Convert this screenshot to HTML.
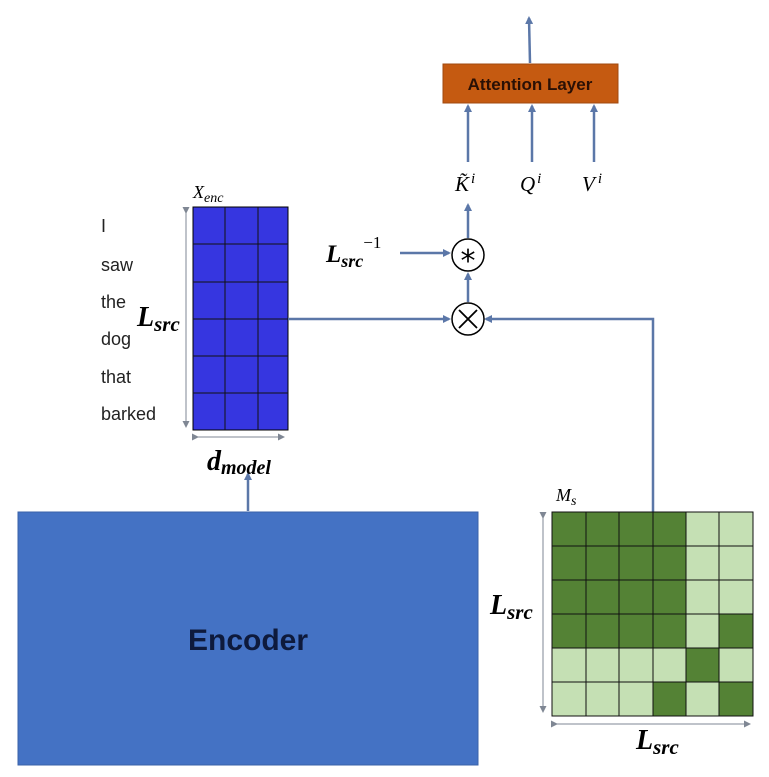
<!DOCTYPE html>
<html><head><style>body{margin:0;background:#fff}svg{display:block}</style></head><body>
<svg width="769" height="777" xmlns="http://www.w3.org/2000/svg" font-family="Liberation Serif, serif">
<defs><marker id="a" markerWidth="8" markerHeight="8" refX="6" refY="4" orient="auto" markerUnits="userSpaceOnUse"><path d="M0,0 L8,4 L0,8 z" fill="#5b77a8"/></marker>
<marker id="g" markerWidth="7" markerHeight="7" refX="5" refY="3.5" orient="auto" markerUnits="userSpaceOnUse"><path d="M0,0 L7,3.5 L0,7 z" fill="#7f8794"/></marker></defs>
<!-- encoder -->
<rect x="18" y="512" width="460" height="253" fill="#4472c4" stroke="#3a62a8"/>
<text x="248" y="650" font-family="Liberation Sans, sans-serif" font-weight="bold" font-size="30" fill="#0e1a3c" text-anchor="middle">Encoder</text>
<line x1="248" y1="511" x2="248" y2="474" stroke="#5b77a8" stroke-width="2.5" marker-end="url(#a)"/>
<!-- blue grid -->
<rect x="193" y="207" width="95" height="223" fill="#3636e0" stroke="#000"/>
<g stroke="#111" stroke-width="1">
<line x1="225" y1="207" x2="225" y2="430"/><line x1="258" y1="207" x2="258" y2="430"/>
<line x1="193" y1="244" x2="288" y2="244"/><line x1="193" y1="282" x2="288" y2="282"/><line x1="193" y1="319" x2="288" y2="319"/><line x1="193" y1="356" x2="288" y2="356"/><line x1="193" y1="393" x2="288" y2="393"/>
</g>
<line x1="186" y1="212" x2="186" y2="426" stroke="#7f8794" marker-end="url(#g)" marker-start="url(#g)"/>
<line x1="197" y1="437" x2="283" y2="437" stroke="#7f8794" marker-end="url(#g)" marker-start="url(#g)"/>
<g font-family="Liberation Sans, sans-serif" font-size="18" fill="#222">
<text x="101" y="232">I</text><text x="101" y="271">saw</text><text x="101" y="308">the</text><text x="101" y="345">dog</text><text x="101" y="383">that</text><text x="101" y="420">barked</text></g>
<text x="193" y="198" font-style="italic" font-size="18">X<tspan font-size="14" dy="4">enc</tspan></text>
<text x="137" y="326" font-style="italic" font-weight="bold" font-size="28">L<tspan font-size="21" dy="5">src</tspan></text>
<text x="207" y="470" font-style="italic" font-weight="bold" font-size="28">d<tspan font-size="20" dy="4">model</tspan></text>
<!-- connectors -->
<line x1="288" y1="319" x2="449" y2="319" stroke="#5b77a8" stroke-width="2.5" marker-end="url(#a)"/>
<polyline points="653,512 653,319 486,319" fill="none" stroke="#5b77a8" stroke-width="2.5" marker-end="url(#a)"/>
<circle cx="468" cy="319" r="16" fill="#fff" stroke="#000" stroke-width="1.5"/>
<path d="M459,310 L477,328 M477,310 L459,328" stroke="#000" stroke-width="1.8"/>
<line x1="468" y1="302" x2="468" y2="274" stroke="#5b77a8" stroke-width="2.5" marker-end="url(#a)"/>
<circle cx="468" cy="255" r="16" fill="#fff" stroke="#000" stroke-width="1.5"/>
<text x="468" y="271" font-family="DejaVu Sans, sans-serif" font-size="30" text-anchor="middle">*</text>
<line x1="400" y1="253" x2="449" y2="253" stroke="#5b77a8" stroke-width="2.5" marker-end="url(#a)"/>
<text x="326" y="262" font-style="italic" font-weight="bold" font-size="25">L<tspan font-size="18" dy="5">src</tspan><tspan font-size="17" font-weight="normal" font-style="normal" dy="-19">−1</tspan></text>
<line x1="468" y1="238" x2="468" y2="205" stroke="#5b77a8" stroke-width="2.5" marker-end="url(#a)"/>
<text x="455" y="191" font-style="italic" font-size="21">K̃<tspan font-size="15" dy="-8" dx="2">i</tspan></text>
<text x="520" y="191" font-style="italic" font-size="21">Q<tspan font-size="15" dy="-8" dx="2">i</tspan></text>
<text x="582" y="191" font-style="italic" font-size="21">V<tspan font-size="15" dy="-8" dx="3">i</tspan></text>
<line x1="468" y1="162" x2="468" y2="106" stroke="#5b77a8" stroke-width="2.5" marker-end="url(#a)"/>
<line x1="532" y1="162" x2="532" y2="106" stroke="#5b77a8" stroke-width="2.5" marker-end="url(#a)"/>
<line x1="594" y1="162" x2="594" y2="106" stroke="#5b77a8" stroke-width="2.5" marker-end="url(#a)"/>
<rect x="443" y="64" width="175" height="39" fill="#c55a11" stroke="#a04a10"/>
<text x="530" y="90" font-family="Liberation Sans, sans-serif" font-weight="bold" font-size="17" fill="#2a1005" text-anchor="middle">Attention Layer</text>
<line x1="530" y1="63" x2="529" y2="18" stroke="#5b77a8" stroke-width="2.5" marker-end="url(#a)"/>
<!-- green grid -->
<g stroke="#111" stroke-width="1">
<rect x="552" y="512" width="201" height="204" fill="#c5e0b4"/>
<rect x="552" y="512" width="134" height="136" fill="#548235" stroke="none"/>
<rect x="719" y="614" width="34" height="34" fill="#548235" stroke="none"/>
<rect x="686" y="648" width="33" height="34" fill="#548235" stroke="none"/>
<rect x="653" y="682" width="33" height="34" fill="#548235" stroke="none"/>
<rect x="719" y="682" width="34" height="34" fill="#548235" stroke="none"/>
<line x1="586" y1="512" x2="586" y2="716"/><line x1="619" y1="512" x2="619" y2="716"/><line x1="653" y1="512" x2="653" y2="716"/><line x1="686" y1="512" x2="686" y2="716"/><line x1="719" y1="512" x2="719" y2="716"/>
<line x1="552" y1="546" x2="753" y2="546"/><line x1="552" y1="580" x2="753" y2="580"/><line x1="552" y1="614" x2="753" y2="614"/><line x1="552" y1="648" x2="753" y2="648"/><line x1="552" y1="682" x2="753" y2="682"/>
<rect x="552" y="512" width="201" height="204" fill="none"/>
</g>
<line x1="543" y1="517" x2="543" y2="711" stroke="#7f8794" marker-end="url(#g)" marker-start="url(#g)"/>
<line x1="556" y1="724" x2="749" y2="724" stroke="#7f8794" marker-end="url(#g)" marker-start="url(#g)"/>
<text x="556" y="501" font-style="italic" font-size="18">M<tspan font-size="14" dy="4">s</tspan></text>
<text x="490" y="614" font-style="italic" font-weight="bold" font-size="28">L<tspan font-size="21" dy="5">src</tspan></text>
<text x="636" y="749" font-style="italic" font-weight="bold" font-size="28">L<tspan font-size="21" dy="5">src</tspan></text>
</svg>
</body></html>
